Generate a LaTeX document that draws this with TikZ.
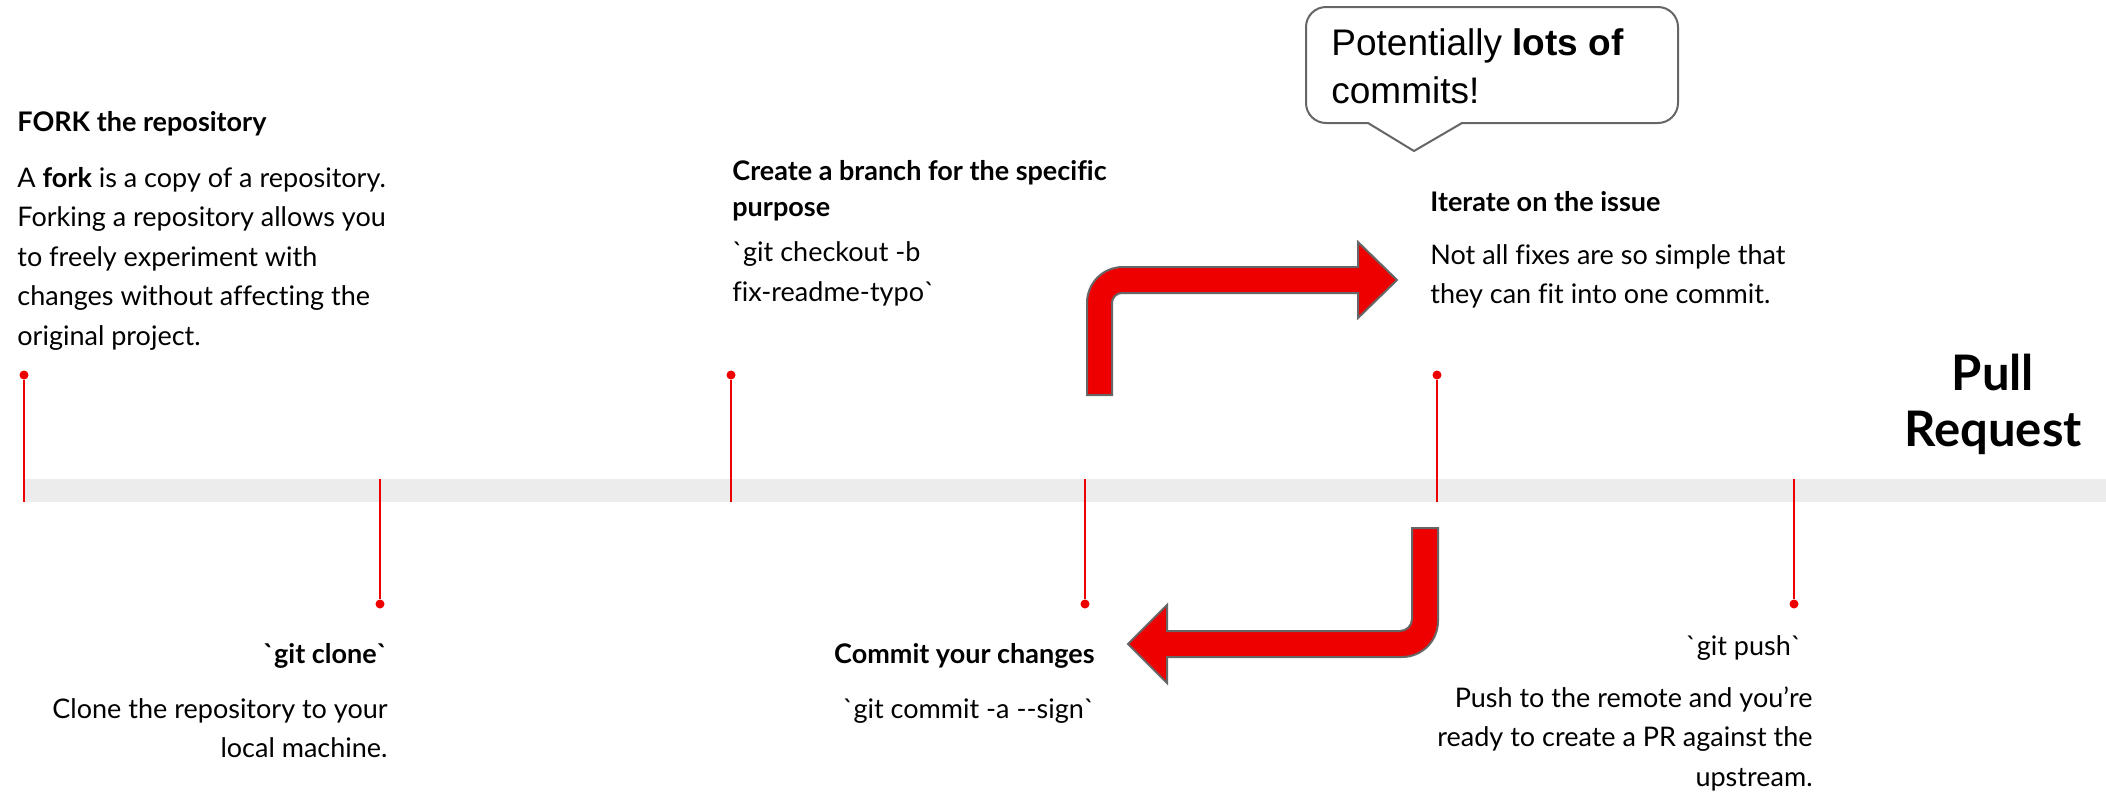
\documentclass[tikz,border=0pt]{standalone}
\usepackage{fontspec}
\setmainfont{Lato}[Ligatures={TeXOff,CommonOff}]
\newfontfamily\arialfont{Liberation Sans}
\usepackage{tikz}
\usetikzlibrary{positioning}

\definecolor{rhred}{HTML}{EE0000}
\definecolor{bandgray}{HTML}{ECECEC}
\definecolor{edgegray}{HTML}{666666}

\newcommand\firstline[1]{\rule{0pt}{#1}}

\begin{document}
\begin{tikzpicture}[
  x=0.5pt, y=-0.5pt,
  tick/.style={draw=rhred, line width=1pt},
  dot/.style={circle, fill=rhred, inner sep=0pt, minimum size=4.5pt},
  title/.style={font=\fontsize{13.5}{18}\selectfont\bfseries, inner sep=0pt},
  body/.style={font=\fontsize{13.5}{19.75}\selectfont, inner sep=0pt},
  code/.style={font=\fontsize{13.5}{20}\selectfont, inner sep=0pt},
  bigarrow/.style={fill=rhred, draw=edgegray, line width=1pt, line join=miter},
  balloon/.style={fill=white, draw=edgegray, line width=1pt}
]
\useasboundingbox (0,0) rectangle (2106,793);

% timeline band
\fill[bandgray] (24,479) rectangle (2106,502);

% ticks
\node[dot] (forkdot) at (24,375) {};
\node[dot] (clonedot) at (380,604) {};
\node[dot] (branchdot) at (731,375) {};
\node[dot] (commitdot) at (1085,604) {};
\node[dot] (iteratedot) at (1437,375) {};
\node[dot] (pushdot) at (1794,604) {};
\coordinate (forkend) at (24,502);
\coordinate (cloneend) at (380,479);
\coordinate (branchend) at (731,502);
\coordinate (commitend) at (1085,479);
\coordinate (iterateend) at (1437,502);
\coordinate (pushend) at (1794,479);
\draw[tick] (forkdot) -- (forkend);
\draw[tick] (clonedot) -- (cloneend);
\draw[tick] (branchdot) -- (branchend);
\draw[tick] (commitdot) -- (commitend);
\draw[tick] (iteratedot) -- (iterateend);
\draw[tick] (pushdot) -- (pushend);

% loop arrows
\draw[bigarrow] (1087,395) -- (1087,303) .. controls (1087,283) and (1103,267) .. (1123,267)
  -- (1358,267) -- (1358,242) -- (1397,280) -- (1358,318) -- (1358,293) -- (1122,293)
  .. controls (1116.5,293) and (1112,297.5) .. (1112,303) -- (1112,395) -- cycle;
\draw[bigarrow] (1412,528) -- (1438,528) -- (1438,621) .. controls (1438,641) and (1422,657) .. (1402,657)
  -- (1167,657) -- (1167,683) -- (1128,644) -- (1167,605) -- (1167,631) -- (1400,631)
  .. controls (1406.6,631) and (1412,625.6) .. (1412,619) -- cycle;

% callout
\draw[balloon] (1326,7) -- (1658,7) .. controls (1669,7) and (1678,16) .. (1678,27)
  -- (1678,103) .. controls (1678,114) and (1669,123) .. (1658,123)
  -- (1462,123) -- (1414,151) -- (1368,123) -- (1326,123)
  .. controls (1315,123) and (1306,114) .. (1306,103)
  -- (1306,27) .. controls (1306,16) and (1315,7) .. (1326,7) -- cycle;
\node[font=\arialfont\fontsize{18.5}{24}\selectfont, inner sep=0pt, align=left, anchor=north west]
  (callouttext) at (1331,19) {\firstline{18pt}Potentially \textbf{lots of}\\commits!};

% steps
\node[title, anchor=base west] (forktitle) at (17,131) {FORK the repository};
\node[body, align=left, below=14pt of forktitle.base west, anchor=north west] (forktext)
  {\firstline{14pt}A \textbf{fork} is a copy of a repository.\\Forking a repository allows you\\to freely experiment with\\changes without affecting the\\original project.};

\node[title, anchor=base east] (clonetitle) at (388,663) {`git clone`};
\node[body, align=right, below=13.5pt of clonetitle.base east, anchor=north east] (clonetext)
  {\firstline{14pt}Clone the repository to your\\local machine.};

\node[title, align=left, anchor=north west] (branchtitle) at (732,152)
  {\firstline{14pt}Create a branch for the specific\\purpose};
\node[code, align=left, below=40.5pt of branchtitle.north west, anchor=north west] (branchcode)
  {\firstline{14pt}`git checkout -b\\fix-readme-typo`};

\node[title, anchor=base east] (committitle) at (1095,663) {Commit your changes};
\node[code, below=13.5pt of committitle.base east, anchor=north east] (commitcode)
  {\firstline{14pt}`git commit -a --sign`};

\node[title, anchor=base west] (iteratetitle) at (1430,211) {Iterate on the issue};
\node[body, align=left, below=12.5pt of iteratetitle.base west, anchor=north west] (iteratetext)
  {\firstline{14pt}Not all fixes are so simple that\\they can fit into one commit.};

\node[code, anchor=base east] (pushtitle) at (1802,655) {`git push`};
\node[body, align=right, below=12pt of pushtitle.base east, anchor=north east, xshift=5.5pt] (pushtext)
  {\firstline{14pt}Push to the remote and you’re\\ready to create a PR against the\\upstream.};

\node[font=\fontsize{24.5}{28}\selectfont\bfseries, inner sep=0pt, align=center, anchor=north]
  (pullreq) at (1993,350) {\firstline{20pt}Pull\\Request};
\end{tikzpicture}
\end{document}
